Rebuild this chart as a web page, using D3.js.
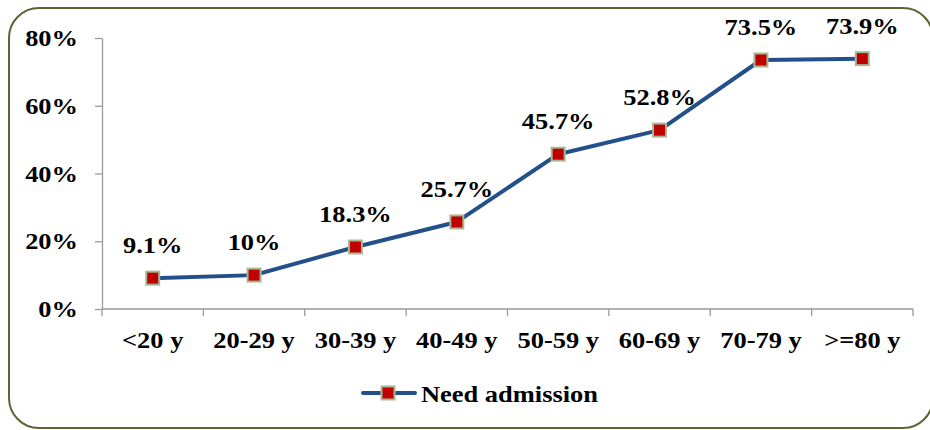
<!DOCTYPE html>
<html>
<head>
<meta charset="utf-8">
<script src="https://cdn.jsdelivr.net/npm/d3@7"></script>
<style>
  body { margin: 0; background: #fff; }
  text { font-family: "Liberation Serif", "Times New Roman", serif; font-weight: bold; fill: #000; }
</style>
</head>
<body>
<svg id="chart" width="930" height="430"></svg>
<script>
// data
const categories = ["<20 y", "20-29 y", "30-39 y", "40-49 y", "50-59 y", "60-69 y", "70-79 y", ">=80 y"];
const values = [9.1, 10, 18.3, 25.7, 45.7, 52.8, 73.5, 73.9];
const valueLabels = ["9.1%", "10%", "18.3%", "25.7%", "45.7%", "52.8%", "73.5%", "73.9%"];
const yTicks = [0, 20, 40, 60, 80];
const seriesName = "Need admission";

const svg = d3.select("#chart");
const plot = { left: 102, right: 913, top: 38, bottom: 309 };
const stretch = 1.15; // text in the original is a bit wide

// outer frame
svg.append("rect")
  .attr("x", 9).attr("y", 8)
  .attr("width", 924).attr("height", 420)
  .attr("rx", 30).attr("ry", 30)
  .attr("fill", "none")
  .attr("stroke", "#5b6436")
  .attr("stroke-width", 2);

const x = d3.scaleBand().domain(categories).range([plot.left, plot.right]);
const y = d3.scaleLinear().domain([0, 80]).range([plot.bottom, plot.top]);

// helper: horizontally stretched text
function wideText(g, tx, ty, str, anchor, size) {
  return g.append("text")
    .attr("transform", `translate(${tx},${ty}) scale(${stretch},1)`)
    .attr("text-anchor", anchor)
    .style("font-size", size + "px")
    .text(str);
}

// y axis
const yAxis = svg.append("g")
  .attr("transform", `translate(${plot.left},0)`)
  .call(d3.axisLeft(y).tickValues(yTicks).tickSize(7).tickSizeOuter(0).tickFormat(""));
yAxis.selectAll("path, line").attr("stroke", "#9a9a9a").attr("stroke-width", 1.3);
yTicks.forEach(t => wideText(svg, 78, y(t) + 8, t + "%", "end", 23));

// x axis with ticks at category boundaries
const xAxis = svg.append("g")
  .attr("transform", `translate(0,${plot.bottom})`);
xAxis.append("line")
  .attr("x1", plot.left).attr("x2", plot.right)
  .attr("stroke", "#9a9a9a").attr("stroke-width", 1.3);
const bounds = categories.map(c => x(c)).concat([plot.right]);
xAxis.selectAll(".tk").data(bounds).join("line")
  .attr("class", "tk")
  .attr("x1", d => d).attr("x2", d => d)
  .attr("y1", 0).attr("y2", 7)
  .attr("stroke", "#9a9a9a").attr("stroke-width", 1.3);
categories.forEach(c => wideText(svg, x(c) + x.bandwidth() / 2, 348, c, "middle", 23));

// series line
const pts = categories.map((c, i) => ({ c, v: values[i], lab: valueLabels[i] }));
const line = d3.line()
  .x(d => x(d.c) + x.bandwidth() / 2)
  .y(d => y(d.v));
svg.append("path")
  .datum(pts)
  .attr("d", line)
  .attr("fill", "none")
  .attr("stroke", "#23508a")
  .attr("stroke-width", 4)
  .attr("stroke-linejoin", "round");

function marker(g, cx, cy) {
  g.append("rect")
    .attr("x", cx - 6.5).attr("y", cy - 6.5)
    .attr("width", 13).attr("height", 13)
    .attr("fill", "#c00000")
    .attr("stroke", "#a8b894")
    .attr("stroke-width", 2);
}
pts.forEach(d => marker(svg, x(d.c) + x.bandwidth() / 2, y(d.v)));

// data labels
pts.forEach(d => wideText(svg, x(d.c) + x.bandwidth() / 2, y(d.v) - 25, d.lab, "middle", 23));

// legend
const lg = svg.append("g");
lg.append("line")
  .attr("x1", 363).attr("x2", 415)
  .attr("y1", 393).attr("y2", 393)
  .attr("stroke", "#23508a").attr("stroke-width", 4).attr("stroke-linecap", "round");
marker(lg, 388, 393);
wideText(lg, 421, 402, seriesName, "start", 23);
</script>
</body>
</html>
